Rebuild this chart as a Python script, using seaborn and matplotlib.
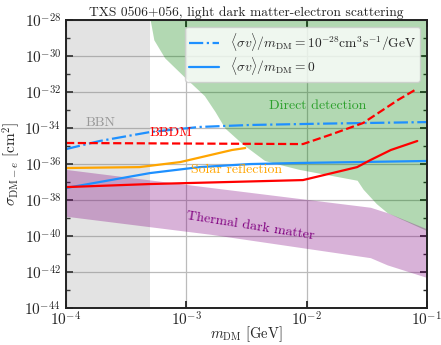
import numpy as np
import pandas as pd
import seaborn as sns
import matplotlib
matplotlib.use('Agg')
import matplotlib.pyplot as plt

# values, as log10 of mass [GeV] and cross section [cm^2]
bbn_mass_max = -3.30

direct_logm = [-3.30, -3.27, -3.18, -3.01, -2.85, -2.76, -2.68, -2.53, -2.35, -2.18, -2.06, -1.58, -1.53, -1.42, -1.33, -1.0]
direct_logsig = [-28.0, -29.1, -30.1, -31.2, -32.2, -33.1, -34.0, -34.9, -35.8, -36.1, -36.3, -36.9, -37.4, -38.2, -38.7, -39.7]

thermal_logm = [-4.0, -2.80, -1.47, -1.33, -1.0]
thermal_top = [-36.3, -37.3, -38.4, -38.7, -39.6]
thermal_bot = [-38.9, -39.9, -41.2, -41.6, -42.3]

dashdot_logm = [-4.0, -3.72, -3.30, -2.89, -2.47, -1.81, -1.0]
dashdot_logsig = [-35.17, -34.72, -34.22, -33.94, -33.83, -33.75, -33.67]

solid_logm = [-4.0, -3.30, -2.89, -2.47, -2.06, -1.0]
solid_logsig = [-37.33, -36.5, -36.17, -36.0, -35.94, -35.83]

solar_logm = [-4.0, -3.39, -3.05, -2.80, -2.62, -2.51]
solar_logsig = [-36.22, -36.17, -35.89, -35.5, -35.22, -35.11]

bbdm_dash_logm = [-4.0, -2.03, -1.81, -1.53, -1.24, -1.10]
bbdm_dash_logsig = [-34.83, -34.89, -34.39, -33.72, -32.44, -31.89]

bbdm_solid_logm = [-4.0, -3.30, -2.03, -1.58, -1.47, -1.30, -1.08]
bbdm_solid_logsig = [-37.28, -37.11, -36.89, -36.17, -35.78, -35.22, -34.72]

sns.set_style('ticks')
plt.rcParams['font.family'] = ['cmr10', 'DejaVu Serif']
plt.rcParams['mathtext.fontset'] = 'cm'
plt.rcParams['axes.formatter.use_mathtext'] = True
plt.rcParams['axes.unicode_minus'] = False

fig = plt.figure(figsize=(4.41, 3.45), dpi=100)
ax = fig.add_axes([0.1497, 0.107, 0.8183, 0.835])

# shaded regions
ax.axvspan(1e-4, 10**bbn_mass_max, color='gray', alpha=0.22, lw=0)
dm = 10**np.array(direct_logm)
ax.fill_between(dm, 10**np.array(direct_logsig), 1e-28, color='green', alpha=0.3, lw=0)
tm = 10**np.array(thermal_logm)
ax.fill_between(tm, 10**np.array(thermal_bot), 10**np.array(thermal_top), color='purple', alpha=0.3, lw=0)

def curve(logm, logsig, **kw):
    df = pd.DataFrame({'m': 10**np.array(logm), 'sig': 10**np.array(logsig)})
    sns.lineplot(data=df, x='m', y='sig', estimator=None, sort=False, ax=ax, **kw)

curve(dashdot_logm, dashdot_logsig, color='dodgerblue', lw=1.6, linestyle='-.',
      label=r'$\langle\sigma v\rangle/m_{\rm DM}=10^{-28}{\rm cm^3s^{-1}/GeV}$')
curve(solid_logm, solid_logsig, color='dodgerblue', lw=1.6,
      label=r'$\langle\sigma v\rangle/m_{\rm DM}=0$')
curve(solar_logm, solar_logsig, color='orange', lw=1.6)
curve(bbdm_dash_logm, bbdm_dash_logsig, color='red', lw=1.6, linestyle='--')
curve(bbdm_solid_logm, bbdm_solid_logsig, color='red', lw=1.6)

ax.set_xscale('log')
ax.set_yscale('log')
ax.set_xlim(1e-4, 1e-1)
ax.set_ylim(1e-44, 1e-28)
ax.set_yticks([10.0**k for k in range(-44, -27, 2)])
ax.set_yticks([10.0**k for k in range(-43, -28, 2)], minor=True)
ax.set_yticklabels([r'$10^{%d}$' % k for k in range(-44, -27, 2)], minor=False)
ax.set_yticklabels([], minor=True)
ax.set_xticks([1e-4, 1e-3, 1e-2, 1e-1])
ax.set_xticklabels([r'$10^{%d}$' % k for k in range(-4, 0)])
ax.xaxis.set_minor_locator(matplotlib.ticker.NullLocator())
ax.tick_params(which='both', direction='in', top=True, right=True, labelsize=11)
ax.tick_params(axis='x', pad=1.5)
ax.tick_params(which='major', length=5, width=1.3)
ax.tick_params(which='minor', length=3, width=1.0)
ax.grid(True, which='major', color='#bbbbbb', lw=0.9)
for s in ax.spines.values():
    s.set_linewidth(1.4)
    s.set_color('#222222')

ax.text(1.95e-4, 10**-33.72, 'BBN', color='#999999', fontsize=10, ha='center', va='center')
ax.text(7.5e-4, 10**-34.28, 'BBDM', color='red', fontsize=10, ha='center', va='center')
ax.text(1.24e-2, 10**-32.78, 'Direct detection', color='#2ca02c', fontsize=10, ha='center', va='center')
ax.text(2.6e-3, 10**-36.33, 'Solar reflection', color='orange', fontsize=10, ha='center', va='center')
ax.text(3.4e-3, 10**-39.44, 'Thermal dark matter', color='purple', fontsize=10, ha='center',
        va='center', rotation=-9)

ax.legend(loc='upper right', fontsize=9.7, handlelength=2.2, borderaxespad=0.5,
          labelspacing=0.2, borderpad=0.3)
ax.set_title('TXS 0506+056, light dark matter-electron scattering', fontsize=9.7, pad=3)
ax.set_xlabel(r'$m_{\rm DM}\ [{\rm GeV}]$', fontsize=10.5, labelpad=-3)
ax.set_ylabel(r'$\sigma_{{\rm DM}-e}\ [{\rm cm}^2]$', fontsize=11, labelpad=2)

fig.savefig('out.png', dpi=100)
